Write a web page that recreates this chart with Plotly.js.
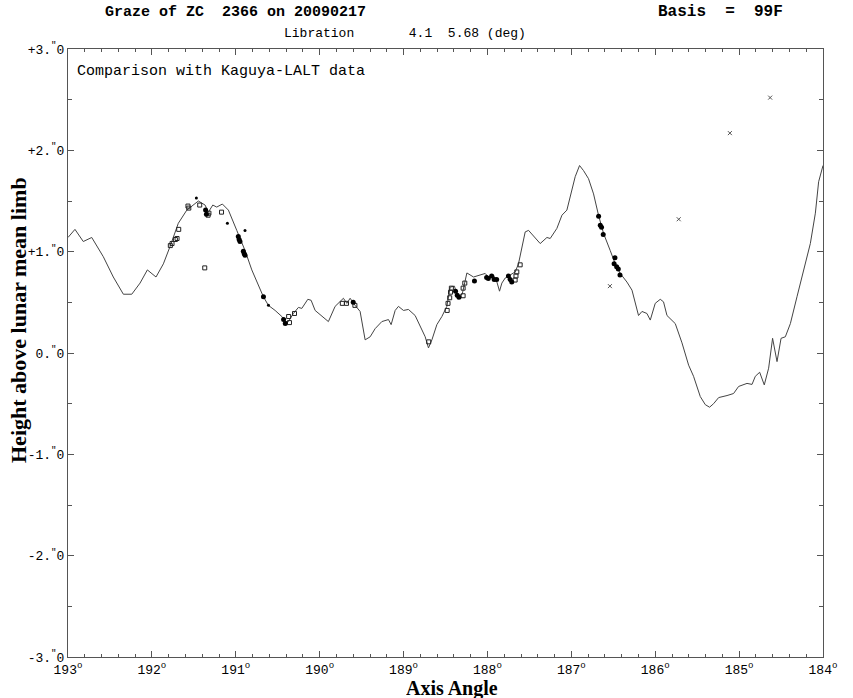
<!DOCTYPE html>
<html>
<head>
<meta charset="utf-8">
<script src="https://cdn.plot.ly/plotly-3.0.1.min.js"></script>
<style>html,body{margin:0;padding:0;background:#fff;}#chart{width:853px;height:698px;}</style>
</head>
<body>
<div id="chart"></div>
<script>
// Lunar limb profile (Kaguya-LALT)
const profileX = [193.00,192.917,192.818,192.717,192.579,192.460,192.340,192.240,192.141,192.054,191.951,191.863,191.784,191.685,191.584,191.446,191.366,191.327,191.274,191.227,191.160,191.088,190.988,190.889,190.809,190.710,190.671,190.611,190.531,190.451,190.412,190.373,190.313,190.253,190.213,190.141,190.102,190.054,189.974,189.896,189.816,189.717,189.676,189.637,189.577,189.518,189.458,189.398,189.339,189.259,189.180,189.148,189.100,189.061,189.001,188.942,188.862,188.802,188.742,188.703,188.662,188.603,188.543,188.484,188.444,188.393,188.361,188.301,188.245,188.166,188.087,188.027,187.988,187.928,187.887,187.856,187.828,187.788,187.729,187.669,187.630,187.589,187.550,187.510,187.451,187.371,187.291,187.252,187.172,187.112,187.053,187.013,186.954,186.902,186.855,186.795,186.735,186.676,186.616,186.536,186.477,186.417,186.337,186.277,186.238,186.199,186.158,186.099,186.059,186.000,185.940,185.901,185.860,185.761,185.681,185.602,185.543,185.463,185.403,185.352,185.304,185.244,185.144,185.066,185.006,184.906,184.846,184.807,184.755,184.700,184.648,184.601,184.548,184.500,184.449,184.389,184.310,184.231,184.151,184.091,184.052,184.000];
const profileY = [1.14,1.22,1.10,1.14,0.95,0.75,0.58,0.58,0.69,0.82,0.75,0.88,1.05,1.28,1.41,1.50,1.46,1.39,1.46,1.44,1.47,1.41,1.21,1.01,0.82,0.62,0.555,0.47,0.42,0.36,0.31,0.31,0.39,0.45,0.44,0.53,0.52,0.42,0.36,0.31,0.46,0.54,0.49,0.54,0.47,0.41,0.13,0.16,0.24,0.31,0.33,0.28,0.42,0.46,0.42,0.43,0.37,0.26,0.16,0.05,0.13,0.28,0.36,0.46,0.65,0.66,0.56,0.58,0.79,0.75,0.77,0.785,0.75,0.77,0.70,0.61,0.69,0.74,0.77,0.80,0.88,1.05,1.195,1.21,1.15,1.08,1.14,1.13,1.23,1.36,1.41,1.54,1.74,1.85,1.80,1.72,1.57,1.36,1.18,1.01,0.88,0.785,0.70,0.62,0.49,0.37,0.41,0.39,0.325,0.49,0.53,0.505,0.37,0.29,0.10,-0.12,-0.23,-0.43,-0.51,-0.535,-0.50,-0.44,-0.42,-0.40,-0.33,-0.30,-0.31,-0.23,-0.19,-0.315,-0.15,0.145,-0.085,0.145,0.16,0.29,0.555,0.82,1.08,1.38,1.69,1.85];

// Observed events: solid dots
const filledX = [191.36,191.35,190.97,190.96,190.95,190.91,190.90,190.89,190.67,190.43,190.41,189.60,188.38,188.36,188.34,188.155,188.01,187.99,187.95,187.92,187.89,187.75,187.73,187.71,186.675,186.655,186.64,186.62,186.48,186.49,186.46,186.44,186.42];
const filledY = [1.41,1.37,1.15,1.12,1.10,1.005,0.98,0.965,0.555,0.33,0.29,0.50,0.61,0.57,0.55,0.71,0.745,0.735,0.76,0.725,0.725,0.76,0.725,0.70,1.35,1.26,1.24,1.17,0.94,0.88,0.85,0.83,0.77];

// small dots
const dotX = [191.47,191.10,190.89,190.61];
const dotY = [1.53,1.28,1.21,0.47];

// open markers
const openX = [191.78,191.76,191.72,191.70,191.68,191.57,191.56,191.43,191.33,191.32,191.17,191.37,190.37,190.36,190.30,189.73,189.68,189.58,188.70,188.48,188.47,188.45,188.44,188.43,188.29,188.29,188.27,187.67,187.66,187.65,187.61];
const openY = [1.06,1.08,1.12,1.13,1.22,1.45,1.43,1.46,1.36,1.38,1.39,0.84,0.36,0.30,0.39,0.49,0.49,0.47,0.11,0.42,0.49,0.545,0.60,0.64,0.565,0.64,0.69,0.72,0.76,0.80,0.87];

// crosses
const crossX = [186.54,185.72,185.11,184.63];
const crossY = [0.66,1.32,2.17,2.52];

const xTickVals = [193,192,191,190,189,188,187,186,185,184];
const xTickText = xTickVals.map(v => v + "<sup>o</sup>");
const yTickVals = [3,2,1,0,-1,-2,-3];
const yTickText = ['+3.<sup>"</sup>0','+2.<sup>"</sup>0','+1.<sup>"</sup>0','0.<sup>"</sup>0','-1.<sup>"</sup>0','-2.<sup>"</sup>0','-3.<sup>"</sup>0'];

const traces = [
  {x: profileX, y: profileY, type: 'scatter', mode: 'lines', line: {color: '#444', width: 1}, hoverinfo: 'skip'},
  {x: openX, y: openY, type: 'scatter', mode: 'markers', marker: {symbol: 'square-open', size: 4, color: '#222', line: {width: 1}}},
  {x: filledX, y: filledY, type: 'scatter', mode: 'markers', marker: {symbol: 'circle', size: 5, color: '#000'}},
  {x: dotX, y: dotY, type: 'scatter', mode: 'markers', marker: {symbol: 'circle', size: 3, color: '#000'}},
  {x: crossX, y: crossY, type: 'scatter', mode: 'markers', marker: {symbol: 'x-thin-open', size: 4, color: '#555', line: {width: 1}}}
];

const mono = 'Liberation Mono, DejaVu Sans Mono, monospace';
const serif = 'Liberation Serif, DejaVu Serif, serif';
const PL = 68, PW = 755, PT = 49, PH = 608;
const px = v => (v - PL) / PW;
const py = v => 1 - (v - PT) / PH;

const layout = {
  width: 853, height: 698,
  margin: {l: PL, r: 853 - PL - PW, t: PT, b: 698 - PT - PH},
  paper_bgcolor: '#fff', plot_bgcolor: '#fff',
  showlegend: false,
  xaxis: {
    range: [193, 184], autorange: false,
    tickvals: xTickVals, ticktext: xTickText,
    ticks: 'inside', ticklen: 6, tickcolor: '#555', tickwidth: 1,
    minor: {dtick: 0.2, ticks: 'inside', ticklen: 3, tickcolor: '#555', showgrid: false},
    showline: true, linecolor: '#555', linewidth: 1, mirror: 'ticks',
    showgrid: false, zeroline: false,
    tickfont: {family: mono, size: 13, color: '#000'}
  },
  yaxis: {
    range: [-3, 3], autorange: false,
    tickvals: yTickVals, ticktext: yTickText,
    ticks: 'inside', ticklen: 6, tickcolor: '#555', tickwidth: 1,
    minor: {dtick: 0.5, ticks: 'inside', ticklen: 4, tickcolor: '#555', showgrid: false},
    showline: true, linecolor: '#555', linewidth: 1, mirror: 'ticks',
    showgrid: false, zeroline: false,
    tickfont: {family: mono, size: 13, color: '#000'}
  },
  annotations: [
    {text: '<b>Graze of ZC  2366 on 20090217</b>', xref: 'paper', yref: 'paper', x: px(103), y: py(12), xanchor: 'left', yanchor: 'middle', showarrow: false, font: {family: mono, size: 15, color: '#000'}},
    {text: '<b>Basis  =  99F</b>', xref: 'paper', yref: 'paper', x: px(656), y: py(12), xanchor: 'left', yanchor: 'middle', showarrow: false, font: {family: mono, size: 16, color: '#000'}},
    {text: 'Libration       4.1  5.68 (deg)', xref: 'paper', yref: 'paper', x: px(405), y: py(34), xanchor: 'center', yanchor: 'middle', showarrow: false, font: {family: mono, size: 13, color: '#000'}},
    {text: 'Comparison with Kaguya-LALT data', xref: 'paper', yref: 'paper', x: px(75), y: py(72), xanchor: 'left', yanchor: 'middle', showarrow: false, font: {family: mono, size: 15, color: '#000'}},
    {text: '<b>Axis Angle</b>', xref: 'paper', yref: 'paper', x: px(452), y: py(688), xanchor: 'center', yanchor: 'middle', height: 20, valign: 'middle', showarrow: false, font: {family: serif, size: 20, color: '#000'}},
    {text: '<b>Height above lunar mean limb</b>', xref: 'paper', yref: 'paper', x: px(18), y: py(320), xanchor: 'center', yanchor: 'middle', textangle: -90, showarrow: false, font: {family: serif, size: 22, color: '#000'}}
  ]
};

Plotly.newPlot('chart', traces, layout, {displayModeBar: false, staticPlot: true});
</script>
</body>
</html>
